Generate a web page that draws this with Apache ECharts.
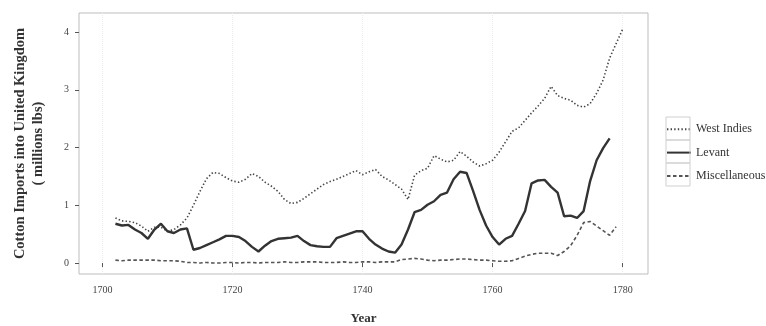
<!DOCTYPE html>
<html>
<head>
<meta charset="utf-8">
<script src="https://cdn.jsdelivr.net/npm/echarts@6/dist/echarts.min.js"></script>
<style>html,body{margin:0;padding:0;background:#fff}#c{width:766px;height:326px}</style>
</head>
<body>
<div id="c"></div>
<script>
const years = [];
for (let y = 1702; y <= 1780; y++) years.push(y);

const westIndies = [0.78,0.73,0.72,0.70,0.64,0.55,0.62,0.62,0.55,0.58,0.66,0.78,1.00,1.24,1.46,1.57,1.55,1.48,1.42,1.40,
  1.45,1.55,1.50,1.40,1.33,1.24,1.10,1.03,1.05,1.12,1.20,1.28,1.36,1.41,1.45,1.50,1.55,1.60,1.53,1.58,
  1.62,1.50,1.44,1.36,1.28,1.10,1.52,1.60,1.64,1.86,1.80,1.75,1.78,1.93,1.85,1.75,1.68,1.72,1.78,1.92,
  2.10,2.28,2.34,2.47,2.60,2.72,2.85,3.06,2.90,2.85,2.82,2.73,2.70,2.76,2.94,3.17,3.55,3.80,4.05];

const levant = [0.68,0.65,0.66,0.58,0.52,0.42,0.58,0.68,0.55,0.52,0.58,0.60,0.23,0.26,0.31,0.36,0.41,0.47,0.47,0.45,
  0.38,0.28,0.20,0.30,0.38,0.42,0.43,0.44,0.47,0.38,0.31,0.29,0.28,0.28,0.43,0.47,0.51,0.55,0.55,0.42,
  0.32,0.25,0.20,0.18,0.32,0.58,0.88,0.92,1.01,1.07,1.18,1.22,1.45,1.58,1.56,1.25,0.92,0.65,0.45,0.32,
  0.42,0.47,0.68,0.90,1.38,1.43,1.44,1.32,1.22,0.81,0.82,0.78,0.90,1.42,1.78,1.99,2.16];

const misc = [0.05,0.04,0.05,0.05,0.05,0.05,0.05,0.04,0.04,0.04,0.03,0.01,0.01,0.00,0.01,0.00,0.00,0.01,0.01,0.00,
  0.01,0.01,0.00,0.01,0.01,0.01,0.02,0.01,0.01,0.02,0.02,0.02,0.01,0.01,0.01,0.02,0.01,0.01,0.02,0.02,
  0.01,0.02,0.02,0.02,0.06,0.07,0.08,0.07,0.05,0.04,0.05,0.05,0.06,0.07,0.07,0.06,0.05,0.05,0.04,0.03,
  0.03,0.04,0.08,0.12,0.15,0.17,0.17,0.17,0.13,0.20,0.30,0.48,0.70,0.72,0.64,0.56,0.48,0.63];

const xTicks = [1700, 1720, 1740, 1760, 1780];
const yTicks = [0, 1, 2, 3, 4];
const seriesNames = ['West Indies', 'Levant', 'Miscellaneous'];

const pair = (arr) => arr.map((v, i) => [years[i], v]);
const serif = 'Liberation Serif';

const chart = echarts.init(document.getElementById('c'));
chart.setOption({
  animation: false,
  backgroundColor: '#fff',
  grid: { left: 79, right: 118, top: 13, bottom: 52, show: true, borderColor: '#bdbdbd', borderWidth: 1,
    backgroundColor: '#fff', containLabel: false, outerBoundsMode: 'none' },
  xAxis: {
    type: 'value', min: 1696.4, max: 1783.9, interval: 20,
    name: 'Year', nameLocation: 'middle', nameGap: 38,
    nameTextStyle: { fontFamily: serif, fontSize: 13, fontWeight: 'bold', color: '#333' },
    axisLine: { show: false },
    axisTick: { show: true, length: 4, lineStyle: { color: '#555' }, customValues: xTicks },
    axisLabel: { fontFamily: serif, fontSize: 10, color: '#444', margin: 11, customValues: xTicks,
      formatter: (v) => String(v) },
    splitLine: { show: true, lineStyle: { color: '#ececec', type: 'dotted' } }
  },
  yAxis: {
    type: 'value', min: -0.19, max: 4.33,
    name: 'Cotton Imports into United Kingdom\n( millions lbs)', nameLocation: 'middle', nameGap: 32, nameRotate: 90,
    nameTextStyle: { fontFamily: serif, fontSize: 14.5, fontWeight: 'bold', color: '#333', lineHeight: 18 },
    axisLine: { show: false },
    axisTick: { show: true, length: 4, lineStyle: { color: '#555' }, customValues: yTicks },
    axisLabel: { fontFamily: serif, fontSize: 10, color: '#444', margin: 10, customValues: yTicks },
    splitLine: { show: false }
  },
  legend: {
    orient: 'vertical', left: 666, top: 122, itemWidth: 24, itemHeight: 18, itemGap: 9, padding: 0,
    data: seriesNames,
    itemStyle: { opacity: 0 },
    textStyle: { fontFamily: serif, fontSize: 12, color: '#333' }
  },
  graphic: [
    { type: 'rect', shape: { x: 666, y: 117, width: 24, height: 23 }, style: { fill: 'none', stroke: '#cfcfcf', lineWidth: 1 }, z: 100 },
    { type: 'rect', shape: { x: 666, y: 140, width: 24, height: 23 }, style: { fill: 'none', stroke: '#cfcfcf', lineWidth: 1 }, z: 100 },
    { type: 'rect', shape: { x: 666, y: 163, width: 24, height: 23 }, style: { fill: 'none', stroke: '#cfcfcf', lineWidth: 1 }, z: 100 }
  ],
  series: [
    { name: seriesNames[0], type: 'line', data: pair(westIndies), showSymbol: false, symbol: 'none',
      lineStyle: { color: '#444', width: 1.6, type: [1.4, 2.2] }, itemStyle: { color: '#444' } },
    { name: seriesNames[1], type: 'line', data: pair(levant), showSymbol: false, symbol: 'none',
      lineStyle: { color: '#333', width: 2.4, type: 'solid' }, itemStyle: { color: '#333' } },
    { name: seriesNames[2], type: 'line', data: pair(misc), showSymbol: false, symbol: 'none',
      lineStyle: { color: '#555', width: 1.6, type: [3.5, 2.5] }, itemStyle: { color: '#555' } }
  ]
});
</script>
</body>
</html>
